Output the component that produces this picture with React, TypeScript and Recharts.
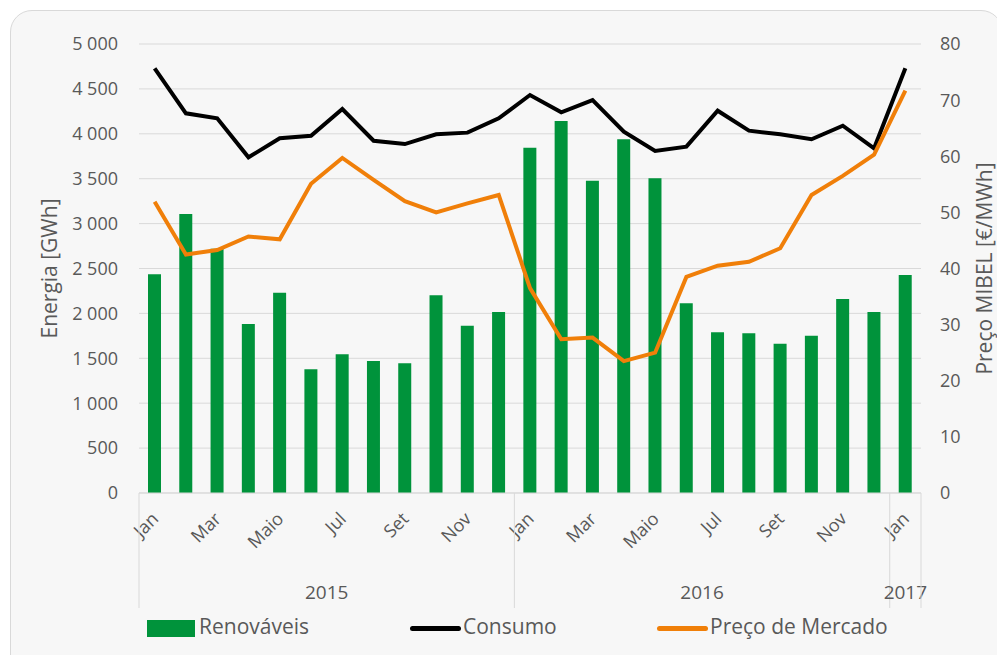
import { ComposedChart, Bar, Line, XAxis, YAxis, CartesianGrid } from 'recharts'

const months = [
  'Jan', 'Fev', 'Mar', 'Abr', 'Maio', 'Jun', 'Jul', 'Ago', 'Set', 'Out', 'Nov', 'Dez',
  'Jan', 'Fev', 'Mar', 'Abr', 'Maio', 'Jun', 'Jul', 'Ago', 'Set', 'Out', 'Nov', 'Dez',
  'Jan',
]
const renovaveis = [
  2435, 3107, 2720, 1882, 2231, 1377, 1544, 1470, 1444, 2201, 1863, 2016,
  3845, 4143, 3478, 3939, 3504, 2112, 1790, 1778, 1663, 1752, 2160, 2016,
  2428,
]
const consumo = [
  4729, 4228, 4172, 3738, 3950, 3979, 4276, 3923, 3886, 3994, 4013, 4172,
  4432, 4239, 4376, 4024, 3808, 3857, 4257, 4035, 3994, 3939, 4090, 3838,
  4729,
]
const preco = [
  51.9, 42.5, 43.3, 45.7, 45.2, 55.1, 59.7, 55.8, 52.0, 50.0, 51.6, 53.1,
  36.5, 27.4, 27.7, 23.5, 25.0, 38.5, 40.5, 41.2, 43.6, 53.1, 56.5, 60.3,
  71.7,
]
const years = [
  { label: '2015', start: 0, count: 12 },
  { label: '2016', start: 12, count: 12 },
  { label: '2017', start: 24, count: 1 },
]
const energyTicks = [0, 500, 1000, 1500, 2000, 2500, 3000, 3500, 4000, 4500, 5000]
const priceTicks = [0, 10, 20, 30, 40, 50, 60, 70, 80]

const data = months.map((m, i) => ({
  month: m,
  renovaveis: renovaveis[i],
  consumo: consumo[i],
  preco: preco[i],
}))

const TEXT = '#595959'
const GRID = '#d9d9d9'
const GREEN = '#00933b'
const ORANGE = '#f07f09'
const FONT = '"Open Sans", sans-serif'

const LEFT_W = 128
const RIGHT_W = 78
const CHART_W = 988
const BAND = (CHART_W - LEFT_W - RIGHT_W) / months.length

function fmtEnergy(v: number) {
  if (v >= 1000) {
    const s = String(v)
    return s.slice(0, s.length - 3) + ' ' + s.slice(s.length - 3)
  }
  return String(v)
}

function MonthTick(props: any) {
  const { x, y, payload } = props
  const index = props.index ?? payload.index
  const last = months.length - 1
  const group = years.find((g) => g.start === index)
  return (
    <g>
      {index % 2 === 0 && (
        <text
          x={x + 5}
          y={y + 27}
          textAnchor="end"
          fill={TEXT}
          fontSize={18}
          fontFamily={FONT}
          transform={`rotate(-45, ${x + 5}, ${y + 27})`}
        >
          {payload.value}
        </text>
      )}
      {group && (
        <>
          <line x1={x - BAND / 2} y1={y} x2={x - BAND / 2} y2={y + 115} stroke={GRID} />
          <text
            x={x - BAND / 2 + (group.count * BAND) / 2}
            y={y + 106}
            textAnchor="middle"
            fill={TEXT}
            fontSize={19}
            fontFamily={FONT}
          >
            {group.label}
          </text>
        </>
      )}
      {index === last && <line x1={x + BAND / 2} y1={y} x2={x + BAND / 2} y2={y + 115} stroke={GRID} />}
    </g>
  )
}

const legendText = { fontSize: 21, color: TEXT, fontFamily: FONT, position: 'absolute' as const, top: 601 }

export default function App() {
  return (
    <div
      style={{
        position: 'relative',
        marginLeft: 2,
        marginTop: 2,
        width: 993,
        height: 670,
        boxSizing: 'border-box',
        border: '1px solid #d9d9d9',
        borderRadius: 22,
        background: '#f7f7f7',
        fontFamily: FONT,
      }}
    >
      <style>{`body{overflow:hidden}`}</style>
      <ComposedChart
        width={CHART_W}
        height={607}
        data={data}
        margin={{ top: 33, right: 0, left: 0, bottom: 0 }}
        style={{ position: 'absolute', left: 0, top: 0 }}
      >
        <CartesianGrid vertical={false} stroke={GRID} yAxisId="left" />
        <XAxis
          dataKey="month"
          interval={0}
          height={125}
          tickSize={0}
          tickMargin={0}
          axisLine={{ stroke: GRID }}
          tickLine={false}
          tick={<MonthTick />}
        />
        <YAxis
          yAxisId="left"
          width={LEFT_W}
          domain={[0, 5000]}
          ticks={energyTicks}
          tickFormatter={fmtEnergy}
          axisLine={false}
          tickLine={false}
          tickSize={0}
          tickMargin={21}
          tick={{ fontSize: 18, fill: TEXT, fontFamily: FONT }}
          label={{
            value: 'Energia [GWh]',
            angle: -90,
            position: 'insideLeft',
            offset: 39,
            style: { textAnchor: 'middle', fontSize: 21, fill: TEXT, fontFamily: FONT },
          }}
        />
        <YAxis
          yAxisId="right"
          orientation="right"
          width={RIGHT_W}
          domain={[0, 80]}
          ticks={priceTicks}
          axisLine={false}
          tickLine={false}
          tickSize={0}
          tickMargin={19}
          tick={{ fontSize: 18, fill: TEXT, fontFamily: FONT }}
          label={{
            value: 'Preço MIBEL [€/MWh]',
            angle: -90,
            position: 'insideRight',
            offset: 14,
            style: { textAnchor: 'middle', fontSize: 21, fill: TEXT, fontFamily: FONT },
          }}
        />
        <Bar yAxisId="left" dataKey="renovaveis" fill={GREEN} barSize={13} isAnimationActive={false} />
        <Line
          yAxisId="left"
          type="linear"
          dataKey="consumo"
          stroke="#000000"
          strokeWidth={4}
          dot={false}
          isAnimationActive={false}
        />
        <Line
          yAxisId="right"
          type="linear"
          dataKey="preco"
          stroke={ORANGE}
          strokeWidth={4}
          dot={false}
          isAnimationActive={false}
        />
      </ComposedChart>
      <div style={{ position: 'absolute', left: 136, top: 609, width: 48, height: 17, background: GREEN }} />
      <div style={{ ...legendText, left: 188 }}>Renováveis</div>
      <div style={{ position: 'absolute', left: 399, top: 615, width: 51, height: 5, borderRadius: 3, background: '#000' }} />
      <div style={{ ...legendText, left: 452 }}>Consumo</div>
      <div style={{ position: 'absolute', left: 646, top: 615, width: 51, height: 5, borderRadius: 3, background: ORANGE }} />
      <div style={{ ...legendText, left: 699 }}>Preço de Mercado</div>
    </div>
  )
}
